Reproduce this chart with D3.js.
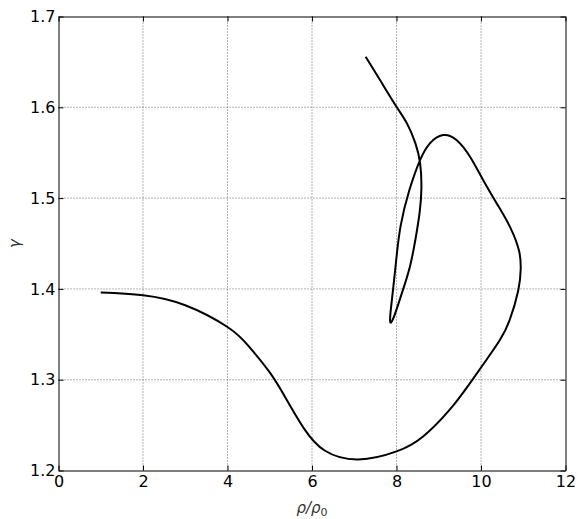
<!DOCTYPE html>
<html>
<head>
<meta charset="utf-8">
<script src="https://cdn.jsdelivr.net/npm/d3@7"></script>
<style>
  html, body { margin: 0; padding: 0; background: #fff; }
  svg { display: block; }
  text { font-family: "DejaVu Sans", sans-serif; }
</style>
</head>
<body>
<svg id="chart" width="579" height="519"></svg>
<script>
// Data (in plotting order)
const rhoRatio = [1.0, 2.0, 3.0, 4.0, 4.5, 5.0, 5.4, 5.8, 6.3, 7.1, 8.0, 8.63, 9.26, 9.74, 10.13, 10.45, 10.68, 10.88, 10.94, 10.90, 10.70, 10.40, 10.05, 9.74, 9.42, 9.1, 8.79, 8.55, 8.30, 8.10, 8.00, 7.92, 7.86, 7.85, 7.90, 8.02, 8.16, 8.32, 8.45, 8.55, 8.59, 8.56, 8.45, 8.25, 8.0, 7.61, 7.27];
const gamma    = [1.396, 1.393, 1.382, 1.358, 1.337, 1.308, 1.278, 1.247, 1.222, 1.2122, 1.221, 1.2375, 1.267, 1.2963, 1.322, 1.344, 1.366, 1.398, 1.422, 1.442, 1.467, 1.492, 1.520, 1.5456, 1.564, 1.5694, 1.5603, 1.541, 1.508, 1.470, 1.435, 1.400, 1.375, 1.364, 1.365, 1.380, 1.400, 1.425, 1.455, 1.485, 1.512, 1.538, 1.560, 1.582, 1.6006, 1.630, 1.6556];
const xTicks = [0, 2, 4, 6, 8, 10, 12];
const yTicks = [1.2, 1.3, 1.4, 1.5, 1.6, 1.7];
const xLabel = "ρ/ρ";
const xLabelSub = "0";
const yLabel = "γ";

const W = 579, H = 519;
const m = {left: 58.5, right: 13.5, top: 16.5, bottom: 48.5};
const svg = d3.select("#chart");

const x = d3.scaleLinear().domain([0, 12]).range([m.left, W - m.right]);
const y = d3.scaleLinear().domain([1.2, 1.7]).range([H - m.bottom, m.top]);

// grid
const grid = svg.append("g").attr("stroke", "#000").attr("stroke-width", 0.6)
  .attr("stroke-dasharray", "1,2").attr("fill", "none");
grid.selectAll("line.gx").data(xTicks.slice(1, -1)).join("line")
  .attr("x1", d => x(d)).attr("x2", d => x(d))
  .attr("y1", y(1.2)).attr("y2", y(1.7));
grid.selectAll("line.gy").data(yTicks.slice(1, -1)).join("line")
  .attr("y1", d => y(d)).attr("y2", d => y(d))
  .attr("x1", x(0)).attr("x2", x(12));

// curve
const pts = rhoRatio.map((r, i) => [r, gamma[i]]);
svg.append("path")
  .datum(pts)
  .attr("fill", "none")
  .attr("stroke", "#000")
  .attr("stroke-width", 2)
  .attr("stroke-linejoin", "round")
  .attr("stroke-linecap", "butt")
  .attr("d", d3.line().x(d => x(d[0])).y(d => y(d[1])).curve(d3.curveNatural));

// axes (inward ticks)
function styleAxis(g) {
  g.select(".domain").attr("stroke", "#000").attr("stroke-width", 1);
  g.selectAll(".tick line").attr("stroke", "#000").attr("stroke-width", 1);
  g.selectAll(".tick text").attr("fill", "#000").attr("font-size", 16)
    .attr("font-family", "DejaVu Sans, sans-serif");
}
svg.append("g").attr("transform", `translate(0,${y(1.2)})`)
  .call(d3.axisBottom(x).tickValues(xTicks).tickFormat(d3.format("d")).tickSizeInner(-5).tickSizeOuter(0).tickPadding(5))
  .call(styleAxis);
svg.append("g").attr("transform", `translate(0,${y(1.7)})`)
  .call(d3.axisTop(x).tickValues(xTicks).tickFormat("").tickSizeInner(-5).tickSizeOuter(0))
  .call(styleAxis);
svg.append("g").attr("transform", `translate(${x(0)},0)`)
  .call(d3.axisLeft(y).tickValues(yTicks).tickFormat(d3.format(".1f")).tickSizeInner(-5).tickSizeOuter(0).tickPadding(3))
  .call(styleAxis);
svg.append("g").attr("transform", `translate(${x(12)},0)`)
  .call(d3.axisRight(y).tickValues(yTicks).tickFormat("").tickSizeInner(-5).tickSizeOuter(0))
  .call(styleAxis);

// axis labels
const xl = svg.append("text")
  .attr("x", (x(0) + x(12)) / 2)
  .attr("y", 513)
  .attr("text-anchor", "middle")
  .attr("font-size", 15)
  .attr("fill", "#333");
xl.append("tspan").attr("font-style", "italic").text(xLabel);
xl.append("tspan").attr("font-size", 11).attr("dy", 3).text(xLabelSub);

svg.append("text")
  .attr("transform", `translate(20,${(y(1.2) + y(1.7)) / 2}) rotate(-90)`)
  .attr("text-anchor", "middle")
  .attr("font-size", 15)
  .attr("font-style", "italic")
  .attr("fill", "#333")
  .text(yLabel);
</script>
</body>
</html>
